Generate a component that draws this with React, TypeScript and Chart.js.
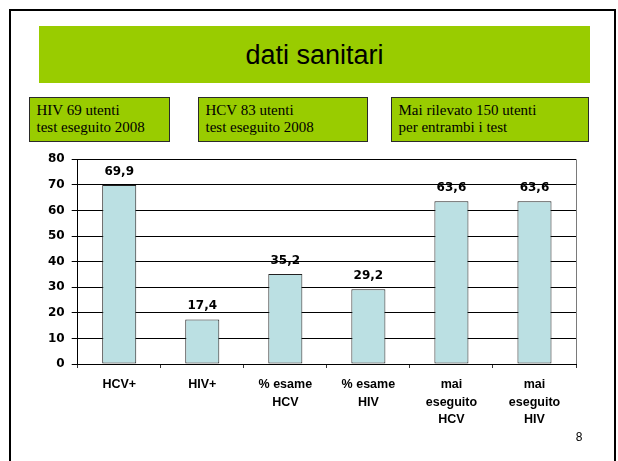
import React, { useEffect, useRef } from "react";
import { Chart, registerables } from "chart.js";

Chart.register(...registerables);

// ---- data ----
const categories: string[][] = [
  ["HCV+"],
  ["HIV+"],
  ["% esame", "HCV"],
  ["% esame", "HIV"],
  ["mai", "eseguito", "HCV"],
  ["mai", "eseguito", "HIV"],
];
const values: number[] = [69.9, 17.4, 35.2, 29.2, 63.6, 63.6];
const yMin = 0;
const yMax = 80;
const yStep = 10;

const titleText = "dati sanitari";
const boxTexts: string[][] = [
  ["HIV 69 utenti", "test eseguito 2008"],
  ["HCV 83 utenti", "test eseguito 2008"],
  ["Mai rilevato 150 utenti", "per entrambi i test"],
];
const pageNumber = "8";

// ---- styles / layout ----
const GREEN = "#99CC00";
const BAR_FILL = "#BBE0E3";
const boxRects = [
  { left: 29, width: 141 },
  { left: 198, width: 170 },
  { left: 391, width: 198 },
];
const CANVAS = { left: 20, top: 145, width: 575, height: 300 };

const fmt = (v: number) => v.toFixed(1).replace(".", ",");

const extrasPlugin = {
  id: "slideExtras",
  afterDraw(chart: any) {
    const { ctx, chartArea: a } = chart;
    ctx.save();
    // gray plot frame (right side)
    ctx.strokeStyle = "#7a7a7a";
    ctx.lineWidth = 1;
    ctx.beginPath();
    ctx.moveTo(Math.round(a.right) + 0.5, a.top);
    ctx.lineTo(Math.round(a.right) + 0.5, a.bottom);
    ctx.stroke();
    // value labels
    const meta = chart.getDatasetMeta(0);
    ctx.font = 'bold 12px "DejaVu Sans", sans-serif';
    ctx.fillStyle = "#000";
    ctx.textAlign = "center";
    ctx.textBaseline = "alphabetic";
    meta.data.forEach((el: any, i: number) => {
      ctx.fillText(fmt(values[i]), el.x, el.y - 10);
    });
    ctx.restore();
  },
};

function BarChart() {
  const ref = useRef<HTMLCanvasElement | null>(null);
  useEffect(() => {
    if (!ref.current) return;
    const chart = new Chart(ref.current, {
      type: "bar",
      data: {
        labels: categories,
        datasets: [
          {
            data: values,
            backgroundColor: BAR_FILL,
            borderColor: "#222",
            borderWidth: 1,
            borderSkipped: false,
            barPercentage: 0.41,
            categoryPercentage: 1,
          },
        ],
      },
      options: {
        animation: false,
        responsive: false,
        devicePixelRatio: 1,
        layout: { padding: { top: 12, right: 19, left: 0, bottom: 0 } },
        plugins: { legend: { display: false }, tooltip: { enabled: false } },
        scales: {
          x: {
            offset: true,
            grid: {
              display: true,
              offset: true,
              drawOnChartArea: false,
              drawTicks: true,
              tickLength: 4,
              color: "#333",
              lineWidth: 1,
            },
            border: { display: true, color: "#000", width: 1 },
            ticks: {
              color: "#000",
              font: { family: '"Liberation Sans", Arial, sans-serif', size: 12.5, weight: "bold", lineHeight: "17.5px" },
              padding: 8,
              maxRotation: 0,
              autoSkip: false,
            },
            afterFit: (s: any) => {
              s.height = 81;
            },
          },
          y: {
            min: yMin,
            max: yMax,
            ticks: {
              stepSize: yStep,
              color: "#000",
              font: { family: '"DejaVu Sans", sans-serif', size: 12, weight: "bold" },
              padding: 7,
            },
            grid: { color: "#000", lineWidth: 1, tickLength: 6, drawTicks: true },
            border: { display: true, color: "#000", width: 1 },
            afterFit: (s: any) => {
              s.width = 57.7;
            },
          },
        },
      } as any,
      plugins: [extrasPlugin],
    });
    return () => chart.destroy();
  }, []);
  return (
    <canvas
      ref={ref}
      width={CANVAS.width}
      height={CANVAS.height}
      style={{ position: "absolute", left: CANVAS.left, top: CANVAS.top, width: CANVAS.width, height: CANVAS.height }}
    />
  );
}

export default function App() {
  return (
    <div
      style={{
        position: "fixed",
        left: 0,
        top: 0,
        width: 618,
        height: 461,
        overflow: "hidden",
        background: "#fff",
      }}
    >
      {/* slide frame */}
      <div
        style={{
          position: "absolute",
          left: 9,
          top: 9,
          width: 607,
          height: 480,
          boxSizing: "border-box",
          border: "2.5px solid #000",
        }}
      />
      {/* title bar */}
      <div
        style={{
          position: "absolute",
          left: 39,
          top: 26,
          width: 551,
          height: 57,
          background: GREEN,
          boxSizing: "border-box",
          paddingTop: 1,
          textAlign: "center",
          fontFamily: '"Liberation Sans", Arial, sans-serif',
          fontSize: 27,
          lineHeight: "57px",
          color: "#000",
        }}
      >
        {titleText}
      </div>
      {/* info boxes */}
      {boxTexts.map((lines, i) => (
        <div
          key={i}
          style={{
            position: "absolute",
            left: boxRects[i].left,
            top: 97,
            width: boxRects[i].width,
            height: 45,
            boxSizing: "border-box",
            background: GREEN,
            border: "1px solid #2a2a2a",
            paddingLeft: 6.5,
            paddingTop: 4,
            fontFamily: '"Liberation Serif", "Times New Roman", serif',
            fontSize: 15,
            lineHeight: "17px",
            color: "#000",
            whiteSpace: "nowrap",
          }}
        >
          {lines.map((l, j) => (
            <div key={j}>{l}</div>
          ))}
        </div>
      ))}
      <BarChart />
      {/* page number */}
      <div
        style={{
          position: "absolute",
          left: 569,
          top: 429,
          width: 20,
          textAlign: "center",
          fontFamily: '"Liberation Sans", Arial, sans-serif',
          fontSize: 12,
          lineHeight: "16px",
          color: "#000",
        }}
      >
        {pageNumber}
      </div>
    </div>
  );
}
